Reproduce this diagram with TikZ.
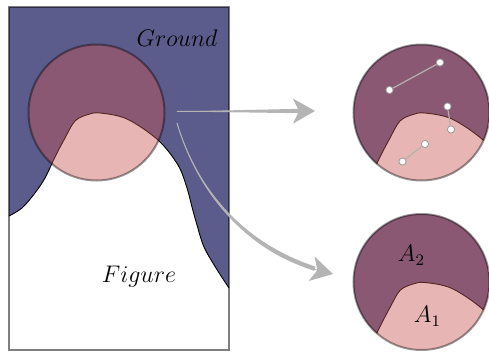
\documentclass[tikz,border=0pt]{standalone}
\usetikzlibrary{arrows.meta,calc}
\definecolor{groundblue}{RGB}{91,91,140}
\definecolor{lensred}{RGB}{200,85,80}
\definecolor{arrowgray}{RGB}{180,180,180}
% ground region and its edge
\newcommand{\groundshape}{%
  \fill[groundblue] (9,7) -- plot[smooth,tension=0.55] coordinates {(9,216) (22,208) (35,193)
    (45,178) (55,157) (65,138) (75,121) (88,114.5) (100,113) (127,119) (158,140) (178,165)
    (187,188) (192,207) (197,225) (204,247) (216,268) (229,288)} -- (229,7) -- cycle;
  \draw[line width=0.45pt] plot[smooth,tension=0.55] coordinates {(9,216) (22,208) (35,193)
    (45,178) (55,157) (65,138) (75,121) (88,114.5) (100,113) (127,119) (158,140) (178,165)
    (187,188) (192,207) (197,225) (204,247) (216,268) (229,288)};}
\begin{document}
\begin{tikzpicture}[x=0.5pt,y=-0.5pt,
    lens/.style={circle,minimum size=68pt,inner sep=0pt,fill=lensred,fill opacity=0.43,
      draw=black,draw opacity=0.4,line width=1pt},
    dot/.style={circle,fill=white,draw=black!40,line width=0.4pt,inner sep=0pt,minimum size=3.6pt},
    seg/.style={draw=black!30,line width=0.6pt},
    zoomarrow/.style={draw=arrowgray,line width=0.5pt,-{Stealth[length=11pt,width=12.5pt,inset=3pt]}},
    every node/.style={font=\fontsize{11.5}{14}\selectfont}]
  \useasboundingbox (0,0) rectangle (489,354);
  % scene
  \groundshape
  \draw[black,draw opacity=0.5,line width=0.6pt] (9,7) rectangle (229,350);
  \node[lens] (lens) at (96.5,112.5) {};
  \node (ground) at (177,38.5) {$Ground$};
  \node (figure) at (139,277) {$Figure$};
  % zoomed views
  \begin{scope}[shift={(325,0)}]
    \begin{scope}
      \clip (96.5,112.5) circle[radius=68];
      \groundshape
    \end{scope}
    \node[lens] (zoomtop) at (96.5,112.5) {};
  \end{scope}
  \begin{scope}[shift={(325,169.5)}]
    \begin{scope}
      \clip (96.5,112.5) circle[radius=68];
      \groundshape
    \end{scope}
    \node[lens] (zoombot) at (96.5,112.5) {};
  \end{scope}
  \foreach \i/\xa/\ya/\xb/\yb in {1/389.5/90/440/62.5, 2/447.5/106.5/451/129.5, 3/402.5/161.5/425/144}{
    \node[dot] (s\i a) at (\xa,\ya) {};
    \node[dot] (s\i b) at (\xb,\yb) {};
    \draw[seg] (s\i a) -- (s\i b);
  }
  \node (atwo) at (411.5,255) {$A_2$};
  \node (aone) at (427.5,316.5) {$A_1$};
  % arrows
  \coordinate (a1s) at (177,111.5);
  \coordinate (a1b) at (300,111);
  \coordinate (a1e) at (315,111);
  \fill[arrowgray] (a1s) -- ($(a1b)+(0,2.2)$) -- ($(a1b)+(0,-2.2)$) -- cycle;
  \draw[zoomarrow] (a1s) -- (a1e);
  \coordinate (a2s) at (177,123);
  \coordinate (a2b) at (314.8,268.7);
  \coordinate (a2e) at (333,274);
  \fill[arrowgray] (a2s) .. controls (197.7,194.3) and (245.8,247.9) .. ($(a2b)+(-0.7,2.1)$)
    -- ($(a2b)+(0.7,-2.1)$) .. controls (247,244.3) and (198.7,193.3) .. (a2s) -- cycle;
  \draw[zoomarrow] (a2s) .. controls (200,200) and (255,255) .. (a2e);
\end{tikzpicture}
\end{document}
